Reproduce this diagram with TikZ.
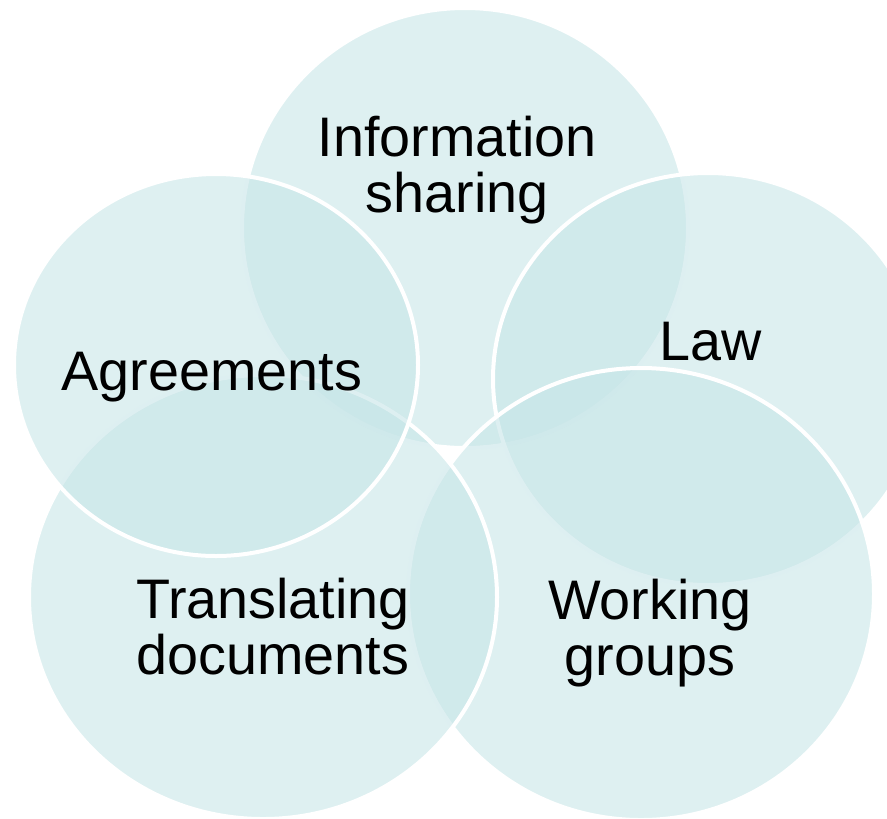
\documentclass[tikz,border=0pt]{standalone}
\usepackage{fontspec}
\setmainfont{Liberation Sans}
\definecolor{bubblefill}{RGB}{198,229,231}

\begin{document}
\begin{tikzpicture}[x=0.75pt,y=0.75pt,yscale=-1,
  bubble/.style={fill=bubblefill, fill opacity=0.58, draw=white, line width=3pt},
  venntext/.style={align=center, inner sep=0pt, font=\fontsize{41.8}{42}\selectfont}]
\useasboundingbox (0,0) rectangle (887,818);
\clip (0,0) rectangle (887,818);

%Shape: Ellipse [top]
\draw [bubble] (465,228) ellipse (223 and 220);
%Shape: Ellipse [right]
\draw [bubble] (708,379) ellipse (215 and 206);
%Shape: Ellipse [lower right]
\draw [bubble] (641,594) ellipse (233 and 226);
%Shape: Ellipse [lower left]
\draw [bubble] (263,597) ellipse (234 and 222);
%Shape: Ellipse [left]
\draw [bubble] (216,365) ellipse (202 and 191);

% Text Node
\draw (457,170) node [venntext] (infolbl) {Information\\sharing};
\draw (711,341.5) node [venntext] (lawlbl) {Law};
\draw (650,633) node [venntext] (grouplbl) {Working\\groups};
\draw (273,627) node [venntext] (transllbl) {Translating\\documents};
\draw (212,377) node [venntext] (agreelbl) {Agreements};

\end{tikzpicture}
\end{document}
